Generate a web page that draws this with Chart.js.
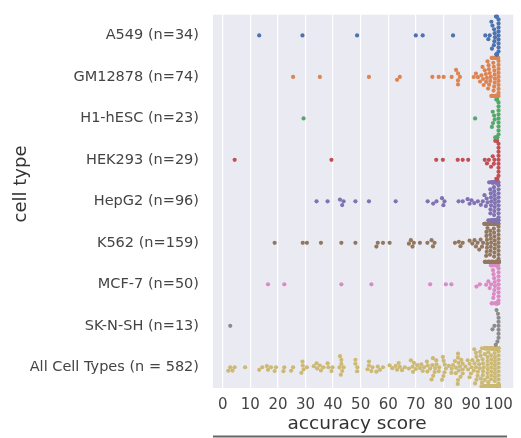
<!DOCTYPE html>
<html>
<head>
<meta charset="utf-8">
<script src="https://cdn.jsdelivr.net/npm/chart.js@4"></script>
<style>
  html, body { margin: 0; padding: 0; background: #fff; }
  canvas { display: block; }
</style>
</head>
<body>
<canvas id="chart" width="521" height="438"></canvas>
<script>
// Categories and per-category accuracy scores
const cellTypes = ['A549', 'GM12878', 'H1-hESC', 'HEK293', 'HepG2', 'K562', 'MCF-7', 'SK-N-SH', 'All Cell Types'];
const tickLabels = ['A549 (n=34)', 'GM12878 (n=74)', 'H1-hESC (n=23)', 'HEK293 (n=29)', 'HepG2 (n=96)',
    'K562 (n=159)', 'MCF-7 (n=50)', 'SK-N-SH (n=13)', 'All Cell Types (n = 582)'];
const xTicks = [0, 10, 20, 30, 40, 50, 60, 70, 80, 90, 100];
const colors = ['#4C72B0', '#DD8452', '#55A868', '#C44E52', '#8172B3', '#937860', '#DA8BC3', '#8C8C8C', '#CCB974'];

const a549 = [13.2, 28.9, 48.7, 70, 72.5, 83.5,
    100, 100, 100, 100, 100, 100, 100, 100, 100,
    99.2, 99.3, 99.4, 99.2, 99.3, 99.4, 99.1, 99.5,
    98.6, 98.4, 98.5, 98.7, 98.3, 97.6, 97.4, 97.8, 96.8, 96.3, 95.2];
const gm12878 = [25.5, 35.2, 53, 63.2, 64.2, 76, 78.3, 80.1, 83, 84.6, 85.3, 85.3, 85.3, 86, 91, 91.8, 92.5,
    100, 100, 100, 100, 100, 100, 100, 100, 100, 100,
    99.9, 99.8, 99.7, 99.6, 99.5, 99.8,
    99.4, 99.3, 99.2, 99.1, 99, 99.3, 99.2, 99.1,
    98.9, 98.8, 98.7, 98.6, 98.5, 98.4, 98.3, 98.6,
    98.2, 98.1, 98, 97.9, 97.8, 97.6, 97.5,
    97.4, 97.2, 97, 96.8, 96.6, 96.5,
    96.4, 96.2, 96, 95.8, 95.5,
    95.4, 95, 94.6, 94.2, 93.3, 93.8, 94.4];
const h1hesc = [29.3, 91.5,
    100, 100, 100, 100, 100, 100, 100, 100, 100,
    99.5, 99.6, 99.4, 99.3, 99.2, 99.5, 98.8, 98.6, 98.4, 98, 97.6, 97.9];
const hek293 = [4.3, 39.4, 77.4, 79.8, 85.2, 87, 89,
    100, 100, 100, 100, 100, 100, 100, 100, 100,
    99.6, 99.4, 99.2, 99.5, 99.3, 98.8, 98.5, 98.3, 97.9, 97.3, 96.5, 95.8, 95];
const hepg2 = [34, 38, 42.5, 43.3, 43.8, 48.1, 53, 62.7, 74.3, 76.3, 77.5, 79.5, 80, 80.4, 85.5, 87, 88.8, 89.5,
    90.2, 91.2, 92.5, 93.6,
    100, 100, 100, 100, 100, 100, 100, 100, 100, 100,
    99.9, 99.8, 99.7, 99.6, 99.5, 99.4, 99.3, 99.2, 99.1, 99,
    98.9, 98.8, 98.7, 98.6, 98.5, 98.4, 98.3, 98.2, 98.1, 98,
    97.9, 97.8, 97.7, 97.6, 97.5, 97.4, 97.3, 97.2, 97.1, 97,
    96.9, 96.6, 96.3, 96, 95.7, 95.4, 94.9, 94.3,
    99.85, 99.65, 99.45, 99.25, 99.05, 98.85, 98.65, 98.45, 98.25, 98.05,
    97.85, 97.65, 97.45, 97.25, 97.05,
    99.95, 99.75, 99.55, 99.35, 99.15, 98.95, 98.75, 98.55, 98.35, 98.15, 97.95];
const k562 = [18.8, 29, 30.5, 35.6, 43, 48.1, 55.7, 56.2, 58.1, 60.5, 67.5, 68.2, 68.8, 69.3, 71.5, 74.2, 75.7,
    76.2, 76.8, 84.2, 85.6, 86.2, 87,
    89.5, 90.5, 91.3, 91.8, 92.4, 93, 93.5, 94, 94.4, 94.8,
    95, 95.1, 95.2, 95.3, 95.4, 95.5, 95.6, 95.7, 95.8, 95.9,
    96, 96.1, 96.2, 96.3, 96.4, 96.5, 96.6, 96.7, 96.8, 96.9,
    97, 97.1, 97.2, 97.3, 97.4, 97.5, 97.6, 97.7, 97.8, 97.9,
    98, 98.1, 98.2, 98.3, 98.4, 98.5, 98.6, 98.7, 98.8, 98.9,
    99, 99.1, 99.2, 99.3, 99.4, 99.5, 99.6, 99.7, 99.8, 99.9,
    95.2, 95.6, 96, 96.4, 96.8, 97.2, 97.6, 98, 98.4, 98.8,
    95.4, 95.8, 96.2, 96.6, 97, 97.4, 97.8, 98.2, 98.6, 99,
    99.1, 99.2, 99.3, 99.4, 99.5, 99.6, 99.7, 99.8, 99.9, 99.5,
    96.5, 97.5, 98.5, 99.5, 99.6, 99.7, 99.8, 99.9, 99.8, 99.9,
    100, 100, 100, 100, 100, 100, 100, 100, 100, 100, 100, 100,
    100, 100, 100, 100, 100, 100, 100, 100, 100, 100, 100, 100,
    100, 100, 100, 100, 100, 100, 100, 100, 100, 100, 100, 100];
const mcf7 = [16.4, 22.3, 43, 53.9, 75.2, 80.9, 82.9, 92, 93.2,
    100, 100, 100, 100, 100, 100, 100, 100, 100,
    99.8, 99.6, 99.4, 99.2, 99, 99.7, 99.5, 99.3, 99.1,
    98.8, 98.6, 98.4, 98.2, 98, 98.7, 98.5, 98.3,
    97.8, 97.5, 97.2, 97.6, 97.3, 96.8, 96.3, 95.5,
    99.9, 99.85, 99.65, 99.45, 98.9, 98.1, 97.9];
const sknsh = [2.7, 100, 100, 100, 100, 100, 100, 99.8, 99.6, 99.3, 99, 98.5, 97.8];
// samples from cell types not listed separately, only part of "All Cell Types"
const otherTypes = [2, 3.5, 8.1, 14.3, 16, 17.5, 19.3, 22, 24.8, 28.5, 33, 34.2, 36.5, 38.3, 39.8, 42.3, 42.8,
    48.8, 52.5, 54.3, 57, 61.5, 63.8, 65, 66, 69, 70.5, 72, 73, 74, 77, 78.5, 80.5, 82, 84.5, 86.5, 88, 90, 92, 94,
    95, 95.5, 96, 96.5, 97, 97.5, 98, 98.5, 99, 99.5,
    95.2, 95.7, 96.2, 96.7, 97.2, 97.7, 98.2, 98.7, 99.2, 99.7,
    99.3, 99.6, 99.8, 99.9, 99.4, 99.6, 99.8, 99.9, 99.5, 99.7,
    100, 100, 100, 100, 100, 100, 100, 100, 100, 100, 100, 100, 100, 100, 100, 100, 100,
    100, 100, 100, 100, 100, 100, 100, 100, 100, 100, 100, 100, 100, 100, 100, 100, 100];

const groups = [a549, gm12878, h1hesc, hek293, hepg2, k562, mcf7, sknsh];
const allCells = [].concat(...groups, otherTypes);
const scores = [...groups, allCells];

const POINT_R = 2.1;
const FONT = '"DejaVu Sans", sans-serif';

// beeswarm, highest scores first: each point goes as close to the centre line as it can without overlap
function swarmOffsets(xs, d, maxOff) {
    const order = xs.map((x, i) => i).sort((a, b) => xs[b] - xs[a]);
    const placed = [];
    const out = new Array(xs.length).fill(0);
    order.forEach(i => {
        const x = xs[i];
        const near = placed.filter(p => Math.abs(p.x - x) < d);
        const cands = [0];
        near.forEach(p => {
            const dy = Math.sqrt(d * d - (p.x - x) * (p.x - x));
            cands.push(p.y + dy, p.y - dy);
        });
        cands.sort((a, b) => Math.abs(a) - Math.abs(b));
        let y = cands[cands.length - 1];
        for (const c of cands) {
            if (near.every(p => (p.x - x) ** 2 + (p.y - c) ** 2 >= d * d - 1e-6)) { y = c; break; }
        }
        y = Math.max(-maxOff, Math.min(maxOff, y));
        placed.push({ x, y });
        out[i] = y;
    });
    return out;
}

const backgroundPlugin = {
    id: 'bg',
    beforeDraw(chart) {
        const { ctx, chartArea: a } = chart;
        ctx.save();
        ctx.fillStyle = '#EAEAF2';
        ctx.fillRect(a.left, a.top, a.right - a.left, a.bottom - a.top);
        ctx.restore();
    }
};

const titlesPlugin = {
    id: 'titles',
    afterDraw(chart) {
        const ctx = chart.ctx;
        ctx.save();
        ctx.fillStyle = '#333';
        ctx.font = '18.5px ' + FONT;
        ctx.textAlign = 'center';
        ctx.textBaseline = 'middle';
        ctx.fillText('accuracy score', 357, 424);
        ctx.translate(21, 184);
        ctx.rotate(-Math.PI / 2);
        ctx.font = '18px ' + FONT;
        ctx.fillText('cell type', 0, 0);
        ctx.restore();
        // dark rule under the figure
        ctx.save();
        ctx.strokeStyle = '#666';
        ctx.lineWidth = 2;
        ctx.beginPath();
        ctx.moveTo(213, 436.5);
        ctx.lineTo(507, 436.5);
        ctx.stroke();
        ctx.restore();
    }
};

const datasets = scores.map((vals, i) => ({
    label: cellTypes[i],
    data: vals.map(v => ({ x: v, y: i })),
    backgroundColor: colors[i],
    borderWidth: 0,
    pointRadius: POINT_R,
    pointHoverRadius: POINT_R
}));

const chart = new Chart(document.getElementById('chart'), {
    type: 'scatter',
    data: { datasets },
    options: {
        responsive: false,
        animation: false,
        devicePixelRatio: 1,
        layout: { padding: { top: 5, right: 3, left: 0, bottom: 0 } },
        plugins: { legend: { display: false }, tooltip: { enabled: false } },
        scales: {
            x: {
                type: 'linear',
                min: -3.55,
                max: 105.35,
                afterBuildTicks: s => { s.ticks = xTicks.map(v => ({ value: v })); },
                afterFit: s => { s.height = 50; },
                grid: { color: '#ffffff', lineWidth: 1.2, drawTicks: false },
                border: { display: false },
                ticks: { color: '#444', padding: 8, font: { family: FONT, size: 15 }, maxRotation: 0, autoSkip: false }
            },
            y: {
                type: 'linear',
                min: -0.5,
                max: 8.5,
                reverse: true,
                afterBuildTicks: s => { s.ticks = cellTypes.map((c, i) => ({ value: i })); },
                afterFit: s => { s.width = 213; },
                grid: { display: false },
                border: { display: false },
                ticks: {
                    color: '#444', padding: 6, autoSkip: false,
                    font: { family: FONT, size: 14.5 },
                    callback: v => tickLabels[v]
                }
            }
        }
    },
    plugins: [backgroundPlugin, titlesPlugin]
});

// spread the points into swarms using the chart's own pixel scales
const xs = chart.scales.x, ys = chart.scales.y;
const pxPerCat = Math.abs(ys.getPixelForValue(1) - ys.getPixelForValue(0));
scores.forEach((vals, i) => {
    const px = vals.map(v => xs.getPixelForValue(v));
    const offs = swarmOffsets(px, POINT_R * 2 - 0.2, 19);
    chart.data.datasets[i].data = vals.map((v, j) => ({ x: v, y: i + offs[j] / pxPerCat }));
});
chart.update('none');
</script>
</body>
</html>
